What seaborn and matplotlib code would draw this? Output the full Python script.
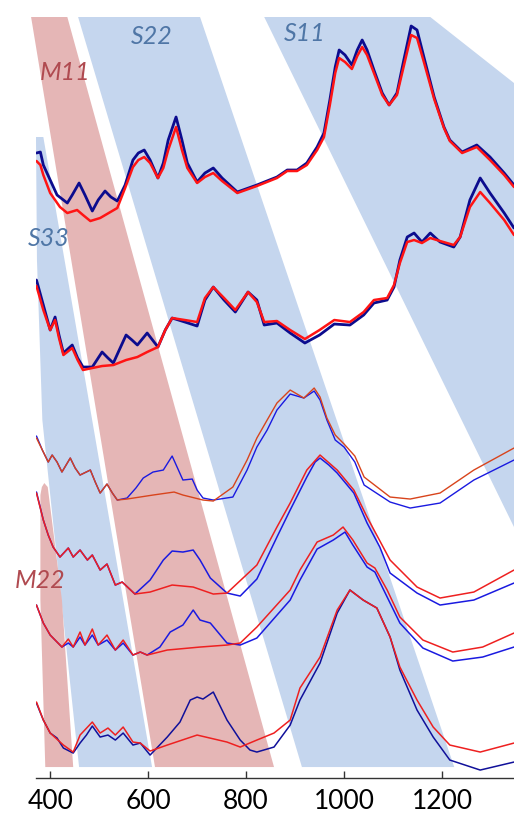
import matplotlib
matplotlib.use("Agg")
import matplotlib.pyplot as plt
import pandas as pd
import seaborn as sns

# wavelength (nm) vs. stacked absorbance offset (arbitrary, larger = lower on the plot)
# pair 1 (top)
wl_1b = [372, 380, 386, 400, 414, 435, 445, 459, 471, 486,
         498, 512, 524, 537, 553, 569, 580, 592, 604, 620,
         631, 641, 657, 669, 680, 700, 716, 733, 751, 782,
         822, 863, 884, 904, 924, 945, 959, 971, 982, 990,
         1002, 1016, 1027, 1037, 1047, 1061, 1078, 1092, 1108, 1122,
         1137, 1149, 1163, 1184, 1204, 1216, 1241, 1271, 1298, 1327,
         1347]
y_1b = [153, 152, 165, 180, 195, 203, 195, 183, 195, 211,
        200, 191, 197, 201, 185, 160, 153, 150, 160, 178,
        163, 140, 117, 140, 163, 182, 173, 168, 178, 192,
        185, 177, 170, 170, 163, 147, 133, 100, 67, 50,
        55, 65, 50, 40, 50, 70, 93, 105, 93, 60,
        26, 30, 57, 97, 127, 140, 152, 145, 157, 173,
        185]
wl_1r = [372, 380, 386, 400, 420, 435, 455, 467, 482, 502,
         537, 553, 569, 580, 592, 604, 620, 631, 641, 657,
         669, 680, 700, 716, 733, 751, 782, 822, 863, 884,
         904, 924, 945, 959, 971, 982, 990, 1002, 1016, 1027,
         1037, 1047, 1061, 1078, 1092, 1108, 1122, 1137, 1149, 1163,
         1184, 1204, 1216, 1241, 1271, 1298, 1327, 1347]
y_1r = [161, 165, 175, 193, 207, 213, 210, 215, 221, 218,
        208, 188, 167, 160, 157, 163, 178, 168, 150, 127,
        150, 168, 183, 177, 173, 181, 193, 186, 178, 171,
        171, 165, 150, 137, 105, 73, 58, 62, 69, 56,
        47, 55, 73, 95, 105, 95, 66, 35, 38, 62,
        99, 128, 141, 153, 147, 160, 175, 187]

# pair 2
wl_2b = [372, 386, 400, 410, 418, 427, 445, 456, 467, 486,
         506, 518, 529, 541, 555, 567, 578, 598, 620, 635,
         649, 675, 700, 716, 733, 755, 778, 804, 822, 837,
         863, 890, 920, 950, 980, 1012, 1040, 1061, 1088, 1102,
         1114, 1129, 1143, 1159, 1176, 1196, 1224, 1237, 1257, 1278,
         1298, 1327, 1347]
y_2b = [280, 305, 330, 317, 335, 353, 345, 358, 367, 367,
        352, 358, 363, 350, 335, 340, 345, 333, 347, 330,
        318, 322, 326, 300, 287, 300, 312, 292, 300, 325,
        323, 333, 343, 335, 324, 325, 315, 303, 300, 287,
        260, 237, 233, 242, 233, 242, 247, 237, 200, 178,
        193, 213, 228]
wl_2r = [372, 386, 400, 410, 418, 427, 445, 456, 467, 486,
         506, 529, 555, 578, 598, 620, 635, 649, 675, 700,
         716, 733, 755, 778, 804, 822, 837, 863, 890, 920,
         950, 980, 1012, 1040, 1061, 1088, 1102, 1114, 1129, 1143,
         1159, 1176, 1196, 1224, 1237, 1257, 1278, 1298, 1327, 1347]
y_2r = [286, 310, 330, 320, 338, 355, 348, 360, 370, 368,
        366, 365, 360, 357, 352, 347, 330, 318, 320, 322,
        298, 287, 298, 310, 292, 302, 322, 321, 330, 339,
        330, 320, 322, 312, 300, 298, 285, 263, 242, 240,
        243, 238, 241, 245, 237, 207, 192, 203, 220, 235]

# pair 3
wl_3b = [372, 384, 396, 404, 414, 424, 441, 451, 461, 482,
         492, 502, 516, 527, 537, 557, 575, 590, 610, 631,
         649, 660, 671, 690, 700, 712, 733, 773, 802, 822,
         843, 863, 890, 904, 918, 939, 951, 965, 982, 1000,
         1022, 1041, 1094, 1135, 1196, 1265, 1347]
y_3b = [436, 450, 462, 455, 462, 472, 458, 468, 475, 470,
        482, 493, 484, 493, 500, 498, 488, 478, 472, 470,
        456, 468, 480, 479, 490, 498, 500, 497, 470, 447,
        430, 410, 394, 396, 398, 391, 400, 420, 440, 447,
        462, 485, 502, 508, 503, 480, 460]
wl_3r = [372, 384, 396, 404, 414, 424, 441, 451, 461, 482,
         492, 502, 516, 527, 537, 557, 610, 653, 671, 712,
         733, 773, 802, 822, 843, 863, 890, 904, 918, 939,
         951, 965, 982, 1000, 1022, 1041, 1094, 1135, 1196, 1265,
         1347]
y_3r = [438, 450, 462, 455, 462, 472, 458, 468, 475, 470,
        482, 493, 484, 493, 500, 499, 495, 492, 495, 500,
        501, 487, 460, 438, 420, 403, 390, 394, 398, 388,
        397, 418, 435, 444, 456, 477, 497, 499, 493, 470,
        448]

# pair 4
wl_4b = [372, 386, 396, 406, 420, 437, 447, 461, 476, 486,
         502, 516, 533, 547, 573, 604, 631, 649, 671, 692,
         706, 727, 761, 788, 822, 863, 890, 924, 941, 951,
         969, 986, 1020, 1047, 1073, 1094, 1149, 1196, 1265, 1347]
y_4b = [492, 520, 535, 547, 557, 548, 557, 550, 560, 555,
        570, 564, 585, 582, 594, 580, 560, 551, 552, 550,
        560, 578, 593, 596, 579, 537, 510, 477, 462, 458,
        465, 473, 493, 523, 547, 573, 593, 605, 600, 583]
wl_4r = [372, 386, 396, 406, 420, 437, 447, 461, 476, 486,
         502, 516, 533, 547, 573, 604, 649, 692, 733, 761,
         822, 863, 890, 924, 951, 986, 1020, 1047, 1094, 1149,
         1196, 1265, 1347]
y_4r = [493, 520, 535, 547, 557, 548, 557, 550, 560, 555,
        570, 564, 585, 582, 594, 592, 585, 587, 594, 593,
        565, 527, 503, 470, 455, 470, 490, 517, 560, 587,
        598, 592, 570]

# pair 5
wl_5b = [372, 386, 400, 424, 437, 447, 461, 471, 486, 498,
         516, 533, 549, 569, 584, 598, 624, 645, 671, 692,
         706, 727, 761, 788, 822, 890, 910, 945, 978, 1002,
         1018, 1047, 1063, 1088, 1114, 1161, 1222, 1283, 1347]
y_5b = [605, 623, 635, 647, 643, 647, 637, 645, 635, 645,
        640, 650, 643, 655, 652, 655, 647, 632, 625, 610,
        620, 623, 643, 645, 638, 600, 580, 549, 540, 532,
        545, 567, 572, 597, 623, 648, 661, 657, 647]
wl_5r = [372, 386, 400, 424, 437, 447, 461, 471, 486, 498,
         516, 533, 549, 569, 584, 598, 639, 706, 761, 788,
         822, 890, 910, 945, 978, 998, 1018, 1047, 1063, 1088,
         1114, 1161, 1222, 1283, 1347]
y_5r = [605, 623, 635, 647, 639, 647, 632, 645, 629, 645,
        635, 650, 640, 655, 652, 655, 650, 647, 645, 643,
        627, 590, 570, 542, 535, 527, 540, 563, 568, 590,
        617, 640, 652, 647, 633]

# pair 6 (bottom)
wl_6b = [372, 386, 400, 414, 427, 447, 461, 474, 486, 502,
         518, 533, 549, 569, 584, 604, 639, 665, 686, 700,
         712, 733, 761, 788, 808, 822, 857, 890, 910, 951,
         986, 1012, 1039, 1067, 1094, 1114, 1149, 1182, 1216, 1278,
         1347]
y_6b = [703, 720, 733, 738, 748, 753, 743, 735, 726, 737,
        735, 740, 733, 745, 743, 755, 737, 722, 700, 697,
        699, 692, 720, 740, 750, 752, 747, 725, 700, 663,
        613, 590, 600, 608, 637, 670, 710, 737, 760, 770,
        762]
wl_6r = [372, 386, 400, 427, 447, 461, 486, 502, 518, 533,
         549, 569, 584, 604, 639, 700, 761, 788, 822, 857,
         890, 910, 951, 986, 1012, 1039, 1067, 1094, 1114, 1149,
         1182, 1216, 1278, 1347]
y_6r = [702, 720, 733, 745, 752, 735, 722, 733, 728, 735,
        727, 742, 743, 751, 745, 735, 742, 747, 740, 733,
        720, 688, 657, 610, 590, 600, 608, 637, 667, 700,
        727, 745, 752, 743]

# transition bands (wavelength, offset) corners
band_s11 = [(837, 17), (1176, 17), (2686, 600), (1420, 600)]
band_s22 = [(457, 17), (706, 17), (1225, 767), (914, 767)]
band_m11 = [(361, 17), (435, 17), (857, 767), (614, 767)]
band_s33 = [(371, 137), (386, 137), (608, 767), (459, 767), (427, 620), (384, 420), (373, 260)]
band_m22 = [(390, 767), (380, 600), (380, 495), (383, 487), (388, 483), (395, 487), (424, 600), (447, 767)]

labels = ["S22", "S11", "M11", "S33", "M22"]
label_pos = [(608, 36), (920, 33), (431, 72), (396, 238), (380, 580)]

sns.set_theme(style="white")
plt.rcParams['font.family'] = ['Lato', 'DejaVu Sans']

fig = plt.figure(figsize=(5.14, 8.19), dpi=100)
ax = fig.add_axes([0.07, 0.05, 0.93, 0.95])

blue_c = '#c5d6ee'
pink_c = '#e5b6b6'
for poly, c, clip in [(band_s11, blue_c, True), (band_s22, blue_c, True), (band_s33, blue_c, True),
                      (band_m11, pink_c, False), (band_m22, pink_c, True)]:
    xs, ys = zip(*poly)
    ax.fill(xs, ys, color=c, lw=0, zorder=0, clip_on=clip)

curves = [
    (wl_1b, y_1b, '#0c0c8e', 2.0), (wl_1r, y_1r, '#ff1414', 1.8),
    (wl_2b, y_2b, '#0c0c8e', 2.0), (wl_2r, y_2r, '#ff1414', 1.8),
    (wl_3b, y_3b, '#1a1ae0', 1.0), (wl_3r, y_3r, '#d8441c', 1.0),
    (wl_4b, y_4b, '#1a1ae0', 1.1), (wl_4r, y_4r, '#ee2020', 1.1),
    (wl_5b, y_5b, '#1a1ae0', 1.1), (wl_5r, y_5r, '#ee2020', 1.1),
    (wl_6b, y_6b, '#10109a', 1.1), (wl_6r, y_6r, '#ee2020', 1.1),
]
for wl, y, c, lw in curves:
    df = pd.DataFrame({'wl': wl, 'y': y})
    sns.lineplot(data=df, x='wl', y='y', color=c, lw=lw, ax=ax, sort=False,
                 estimator=None, solid_joinstyle='round', solid_capstyle='round')

s_col = '#4f76a6'
m_col = '#b04a50'
for lab, (x, y) in zip(labels, label_pos):
    ax.text(x, y, lab, color=s_col if lab.startswith('S') else m_col, fontsize=18,
            fontstyle='italic', ha='center', va='center')

ax.set_xlim(371, 1347)
ax.set_ylim(778, 0)
ax.set_xlabel('')
ax.set_ylabel('')
ax.set_yticks([])
ax.set_xticks([400, 600, 800, 1000, 1200])
ax.tick_params(axis='x', direction='in', length=5, width=1, colors='#333333',
               labelsize=19, labelcolor='black', pad=8, bottom=True)
for s in ['top', 'right', 'left']:
    ax.spines[s].set_visible(False)
ax.spines['bottom'].set_color('#333333')
ax.spines['bottom'].set_linewidth(1)
ax.set_facecolor('white')

fig.savefig('out.png', dpi=100)
